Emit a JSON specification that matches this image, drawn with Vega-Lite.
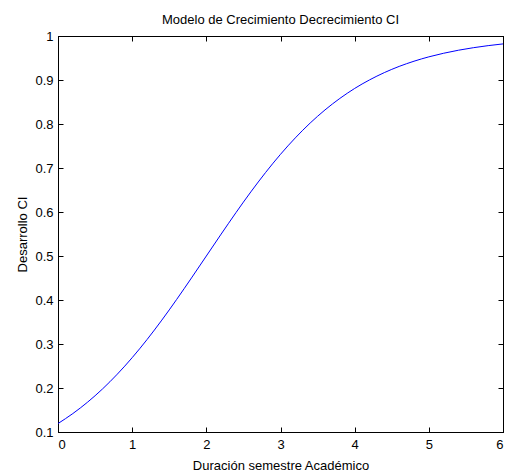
{
  "$schema": "https://vega.github.io/schema/vega-lite/v6.json",
  "width": 445,
  "height": 396,
  "autosize": {"type": "none"},
  "padding": {"left": 58, "top": 36, "right": 5, "bottom": 39},
  "background": "white",
  "title": {"text": "Modelo de Crecimiento Decrecimiento CI", "font": "Liberation Sans", "fontSize": 13, "fontWeight": "normal", "color": "black", "offset": 3},
  "config": {
    "view": {"stroke": "black", "strokeWidth": 1},
    "axis": {"labelFont": "Liberation Sans", "titleFont": "Liberation Sans", "labelFontSize": 13, "titleFontSize": 13, "titleFontWeight": "normal", "labelColor": "black", "titleColor": "black", "domainColor": "black", "tickColor": "black", "grid": false, "tickSize": -5, "tickWidth": 1}
  },
  "resolve": {"axis": {"x": "independent", "y": "independent"}},
  "data": {"values": [
    {"x": 0, "y": 0.1192}, {"x": 0.2, "y": 0.1419}, {"x": 0.4, "y": 0.1680}, {"x": 0.6, "y": 0.1978},
    {"x": 0.8, "y": 0.2315}, {"x": 1.0, "y": 0.2689}, {"x": 1.2, "y": 0.3100}, {"x": 1.4, "y": 0.3543},
    {"x": 1.6, "y": 0.4013}, {"x": 1.8, "y": 0.4502}, {"x": 2.0, "y": 0.5}, {"x": 2.2, "y": 0.5498},
    {"x": 2.4, "y": 0.5987}, {"x": 2.6, "y": 0.6457}, {"x": 2.8, "y": 0.6900}, {"x": 3.0, "y": 0.7311},
    {"x": 3.2, "y": 0.7685}, {"x": 3.4, "y": 0.8022}, {"x": 3.6, "y": 0.8320}, {"x": 3.8, "y": 0.8581},
    {"x": 4.0, "y": 0.8808}, {"x": 4.2, "y": 0.9002}, {"x": 4.4, "y": 0.9168}, {"x": 4.6, "y": 0.9309},
    {"x": 4.8, "y": 0.9427}, {"x": 5.0, "y": 0.9526}, {"x": 5.2, "y": 0.9608}, {"x": 5.4, "y": 0.9677},
    {"x": 5.6, "y": 0.9734}, {"x": 5.8, "y": 0.9781}, {"x": 6.0, "y": 0.9820}
  ]},
  "layer": [
    {
      "mark": {"type": "line", "color": "#0000ff", "strokeWidth": 1, "interpolate": "monotone"},
      "encoding": {
        "x": {"field": "x", "type": "quantitative", "scale": {"domain": [0, 6], "nice": false, "zero": false},
              "axis": {"title": "Duración semestre Académico", "values": [0,1,2,3,4,5,6], "format": "d", "labelPadding": 11, "titlePadding": 8}},
        "y": {"field": "y", "type": "quantitative", "scale": {"domain": [0.1, 1], "nice": false, "zero": false},
              "axis": {"title": "Desarrollo CI", "values": [0.1,0.2,0.3,0.4,0.5,0.6,0.7,0.8,0.9,1], "labelExpr": "datum.value == 1 ? '1' : format(datum.value, '.1f')", "labelPadding": 10, "titlePadding": 5}}
      }
    },
    {
      "mark": {"type": "point", "opacity": 0},
      "encoding": {
        "x": {"field": "x", "type": "quantitative", "axis": {"orient": "top", "title": null, "labels": false, "values": [0,1,2,3,4,5,6]}},
        "y": {"field": "y", "type": "quantitative", "axis": {"orient": "right", "title": null, "labels": false, "values": [0.1,0.2,0.3,0.4,0.5,0.6,0.7,0.8,0.9,1]}}
      }
    }
  ]
}
